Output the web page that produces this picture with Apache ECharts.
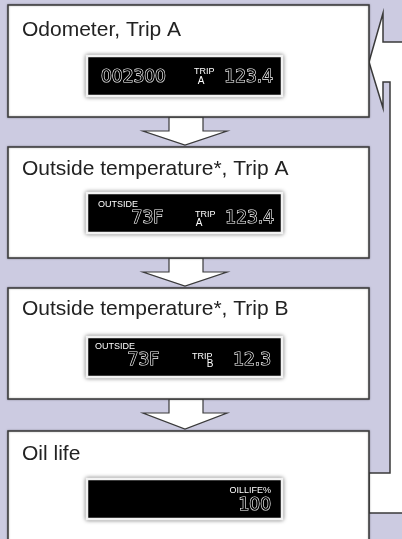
<!DOCTYPE html>
<html>
<head>
<meta charset="utf-8">
<script src="https://cdn.jsdelivr.net/npm/echarts@6/dist/echarts.min.js"></script>
<style>
	html, body { margin: 0; padding: 0; background: #cccbe1; }
	#main { width: 402px; height: 539px; }
</style>
</head>
<body>
<div id="main"></div>
<script>
// steps of the display cycle
var stepTitles = ['Odometer, Trip A', 'Outside temperature*, Trip A', 'Outside temperature*, Trip B', 'Oil life'];
var leftLabels = ['', 'OUTSIDE', 'OUTSIDE', ''];
var leftValues = ['002300', '73F', '73F', ''];
var tripLetters = ['A', 'A', 'B', ''];
var rightValues = ['123.4', '123.4', '12.3', '100'];
var rightLabels = ['', '', '', 'OILLIFE%'];

// layout
var boxTop = [5, 147, 288, 431];
var boxBottom = [117, 258, 399, 580];
var titleY = [29, 168, 308, 453];
var dispTop = [56, 193, 337, 479];
var labelDy = [0, 11.5, 9.5, 12];
var valueDy = [22, 25.5, 23.5, 26.5];
var leftValueX = [101, 163, 159, 0];
var leftSpacing = [2.8, 1.5, 1.5, 0];
var rightValueX = [273, 274, 271, 271];
var tripX = [194, 195, 192, 0];
var tripDy = [16, 21.5, 19.5, 0];
var letterX = [201, 199, 210, 0];
var letterDy = [25, 30.5, 27.5, 0];
var boxLeft = 8, boxRight = 369;
var dispLeft = 87, dispW = 195, dispH = 40;
var lineColor = '#3a3a3a';

var elements = [];

// loop arrow on the right
elements.push({
	type: 'polygon',
	shape: { points: [[420, 42], [383, 42], [383, 13], [369, 62], [383, 108], [383, 82], [390, 82], [390, 473], [369, 473], [369, 513], [420, 513]] },
	style: { fill: '#fff', stroke: lineColor, lineWidth: 1.5 }
});

// down arrows between boxes
for (var i = 0; i < 3; i++) {
	var b = boxBottom[i];
	var n = boxTop[i + 1];
	var base = b + Math.round((n - b) * 0.45);
	elements.push({
		type: 'polygon',
		shape: { points: [[169, b], [203, b], [203, base], [227, base], [185, n - 2], [143, base], [169, base]] },
		style: { fill: '#fff', stroke: lineColor, lineWidth: 1.2 }
	});
}

var smallFont = '9px "Liberation Sans", Arial, sans-serif';
var digitFont = '17px "DejaVu Sans", sans-serif';
function digits(x, y, txt, align, spacing) {
	return {
		type: 'text',
		style: {
			x: x, y: y, text: txt, fill: '#000', stroke: '#fff', lineWidth: 1.2,
			font: digitFont, align: align, verticalAlign: 'middle', letterSpacing: spacing
		}
	};
}

for (var k = 0; k < stepTitles.length; k++) {
	var t = dispTop[k];
	// box
	elements.push({
		type: 'rect',
		shape: { x: boxLeft, y: boxTop[k], width: boxRight - boxLeft, height: boxBottom[k] - boxTop[k] },
		style: { fill: '#fff', stroke: lineColor, lineWidth: 1.5, shadowBlur: 2, shadowColor: 'rgba(0,0,0,0.35)' }
	});
	elements.push({
		type: 'text',
		style: {
			x: 22, y: titleY[k] + 1, text: stepTitles[k], fill: '#222',
			font: '21px "Liberation Sans", Arial, sans-serif', verticalAlign: 'middle'
		}
	});
	// display panel
	elements.push({
		type: 'rect',
		shape: { x: dispLeft, y: t, width: dispW, height: dispH },
		style: { fill: '#000', stroke: '#f2f2f2', lineWidth: 2.5, shadowBlur: 4, shadowColor: 'rgba(0,0,0,0.45)' }
	});
	if (leftLabels[k]) {
		elements.push({ type: 'text', style: { x: dispLeft + 11 + (k === 2 ? -3 : 0), y: t + labelDy[k], text: leftLabels[k], fill: '#fff', font: smallFont, verticalAlign: 'middle' } });
	}
	if (leftValues[k]) {
		elements.push(digits(leftValueX[k], t + valueDy[k], leftValues[k], leftLabels[k] ? 'right' : 'left', leftSpacing[k]));
	}
	if (tripLetters[k]) {
		elements.push({ type: 'text', style: { x: tripX[k], y: t + tripDy[k], text: 'TRIP', fill: '#fff', font: smallFont, verticalAlign: 'middle' } });
		elements.push({ type: 'text', style: { x: letterX[k], y: t + letterDy[k], text: tripLetters[k], fill: '#fff', font: '10px "Liberation Sans", Arial', align: 'center', verticalAlign: 'middle' } });
	}
	if (rightLabels[k]) {
		elements.push({ type: 'text', style: { x: 271, y: t + labelDy[k], text: rightLabels[k], fill: '#fff', font: smallFont, align: 'right', verticalAlign: 'middle' } });
	}
	elements.push(digits(rightValueX[k], t + valueDy[k], rightValues[k], 'right', 0));
}

var myChart = echarts.init(document.getElementById('main'));
myChart.setOption({
	backgroundColor: '#cccbe1',
	animation: false,
	graphic: { elements: elements }
});
</script>
</body>
</html>
